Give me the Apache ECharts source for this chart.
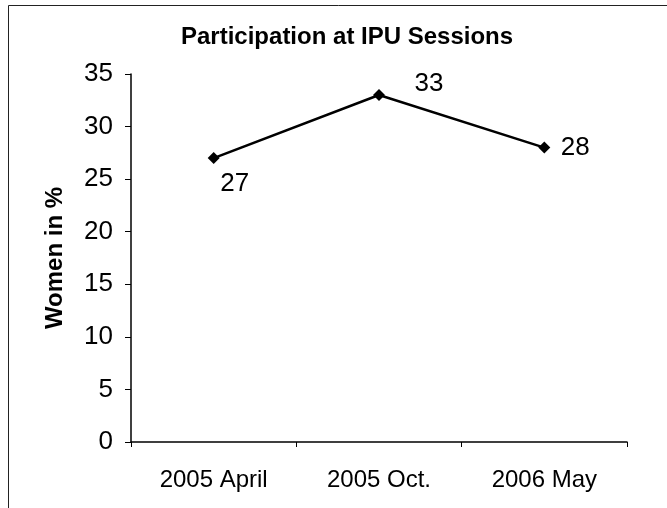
<!DOCTYPE html>
<html><head><meta charset="utf-8">
<script src="https://cdn.jsdelivr.net/npm/echarts@6/dist/echarts.min.js"></script>
<style>html,body{margin:0;padding:0;background:#fff}#c{width:667px;height:508px}</style>
</head><body><div id="c"></div>
<script>
const categories = ['2005 April', '2005 Oct.', '2006 May'];
const values = [27, 33, 28];
const labelOffsets = [[21, 26], [50, -11], [31, 0]];
const title = 'Participation at IPU Sessions';
const yName = 'Women in %';

const chart = echarts.init(document.getElementById('c'));
const font = 'Liberation Sans, Arial, sans-serif';
chart.setOption({
  animation: false,
  graphic: [{type: 'rect', shape: {x: 8.5, y: 5.5, width: 700, height: 600}, style: {fill: 'none', stroke: '#222', lineWidth: 1}}],
  title: {text: title, left: 176, top: 20, textStyle: {fontFamily: font, fontWeight: 'bold', fontSize: 24, color: '#000'}},
  grid: {left: 131, right: 40, top: 74, bottom: 66},
  xAxis: {type: 'category', data: categories, boundaryGap: true,
    axisLine: {lineStyle: {color: '#000', width: 1.5}},
    axisTick: {show: true, length: 5, lineStyle: {color: '#000'}},
    axisLabel: {fontFamily: font, fontSize: 24, color: '#000', margin: 26}},
  yAxis: {type: 'value', min: 0, max: 35, interval: 5,
    name: yName, nameLocation: 'middle', nameGap: 64,
    nameTextStyle: {fontFamily: font, fontWeight: 'bold', fontSize: 24, color: '#000'},
    axisLine: {show: true, lineStyle: {color: '#000', width: 1.5}},
    axisTick: {show: true, length: 6, lineStyle: {color: '#000'}},
    splitLine: {show: false},
    axisLabel: {fontFamily: font, fontSize: 26, color: '#000', margin: 18}},
  series: [{type: 'line', data: values.map((v, i) => ({value: v, label: {offset: labelOffsets[i]}})),
    symbol: 'diamond', symbolSize: 12,
    lineStyle: {color: '#000', width: 2.5}, itemStyle: {color: '#000'},
    label: {show: true, position: 'inside', fontFamily: font, fontSize: 26, color: '#000'}}]
});
</script></body></html>
